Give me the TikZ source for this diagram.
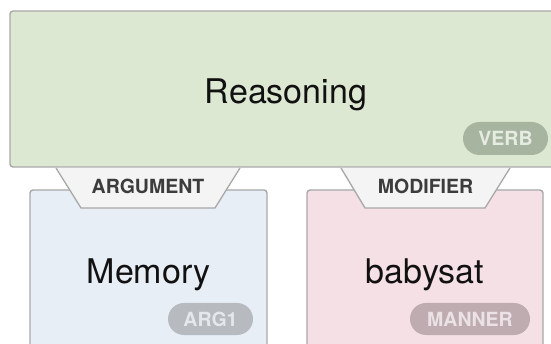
\documentclass[tikz,border=0pt]{standalone}
\usepackage{fontspec}
\setmainfont{TeX Gyre Heros}
\usetikzlibrary{shapes.misc}

\definecolor{edgegray}{RGB}{168,168,168}
\definecolor{verbfill}{RGB}{221,232,210}
\definecolor{argfill}{RGB}{232,238,246}
\definecolor{modfill}{RGB}{245,224,230}
\definecolor{tabfill}{RGB}{244,244,244}
\definecolor{tabtext}{RGB}{60,60,60}
\definecolor{wordtext}{RGB}{17,17,17}
\definecolor{verbpill}{RGB}{167,181,160}
\definecolor{verbpilltext}{RGB}{230,236,226}
\definecolor{argpill}{RGB}{183,187,192}
\definecolor{argpilltext}{RGB}{228,232,237}
\definecolor{modpill}{RGB}{190,172,176}
\definecolor{modpilltext}{RGB}{236,226,229}

\tikzset{
  spanbox/.style={draw=edgegray, line width=1.4pt, rounded corners=3pt},
  word/.style={font=\fontsize{34}{38}\selectfont, text=wordtext, anchor=base, inner sep=0pt},
  tabshape/.style={fill=tabfill, draw=edgegray, line width=1.3pt, line join=miter},
  tablabel/.style={font=\bfseries\fontsize{19.5}{22}\selectfont, text=tabtext, anchor=base, inner sep=0pt},
  pill/.style={rounded rectangle, minimum height=32pt, inner sep=0pt,
               font=\bfseries\fontsize{19.5}{22}\selectfont},
}

\begin{document}
\begin{tikzpicture}[x=1pt, y=-1pt]
  \useasboundingbox (0,0) rectangle (551,344);
  \clip (0,0) rectangle (551,344);
  \fill[white] (0,0) rectangle (551,344);

  % predicate span
  \draw[spanbox, fill=verbfill] (10,11) rectangle (562,167);
  \node[word] (reasoning) at (286,104) {Reasoning};
  \node[pill, fill=verbpill, text=verbpilltext, minimum width=85pt, minimum height=33pt]
    (verbtag) at (505.5,138.5) {VERB};

  % argument span
  \draw[spanbox, fill=argfill] (30,190) rectangle (267,370);
  \node[word] (memory) at (148.5,284) {Memory};
  \node[pill, fill=argpill, text=argpilltext, minimum width=85pt]
    (argtag) at (210.5,319) {ARG1};

  % modifier span
  \draw[spanbox, fill=modfill] (307,190) rectangle (543,370);
  \node[word] (babysat) at (425,284) {babysat};
  \node[pill, fill=modpill, text=modpilltext, minimum width=120pt]
    (modtag) at (470,319) {MANNER};

  % relation tabs hanging from the predicate span
  \fill[tabfill] (56,168) -- (81,208) -- (215,208) -- (240,168) -- cycle;
  \draw[tabshape, fill=none] (56,168) -- (81,208) -- (215,208) -- (240,168);
  \node[tablabel] (argrel) at (148,193.5) {ARGUMENT};

  \fill[tabfill] (341,168) -- (365,208) -- (485,208) -- (510,168) -- cycle;
  \draw[tabshape, fill=none] (341,168) -- (365,208) -- (485,208) -- (510,168);
  \node[tablabel] (modrel) at (425.5,193.5) {MODIFIER};
\end{tikzpicture}
\end{document}
